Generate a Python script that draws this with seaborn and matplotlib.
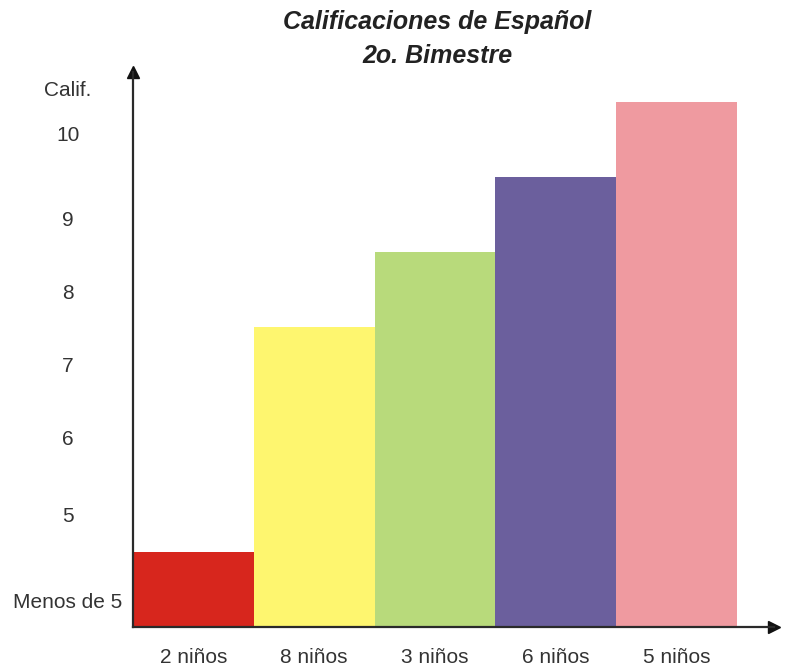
import matplotlib
matplotlib.use('Agg')
import matplotlib.pyplot as plt
import seaborn as sns

# datos
ninos = ['2 niños', '8 niños', '3 niños', '6 niños', '5 niños']
nivel = [4, 7, 8, 9, 10]   # "Menos de 5" = 4
colores = ['#d7261d', '#fef66f', '#b8da7b', '#6b5f9d', '#ef9aa0']
etiquetas_y = ['Menos de 5', '5', '6', '7', '8', '9', '10', 'Calif.']
pos_y = [3.35, 4.5, 5.52, 6.5, 7.47, 8.45, 9.58, 10.18]

sns.set_style('white')
plt.rcParams['font.family'] = ['Liberation Sans', 'DejaVu Sans']

fig = plt.figure(figsize=(7.89, 6.67), dpi=100)
ax = fig.add_axes([0.1686, 0.06, 0.8124, 0.832])

sns.barplot(x=ninos, y=nivel, hue=ninos, palette=colores, width=1.0,
            saturation=1, linewidth=0, legend=False, ax=ax)

ax.set_xlim(-0.5, 4.806)
ax.set_ylim(3, 10.4)

for s in ['top', 'right']:
    ax.spines[s].set_visible(False)
for s in ['left', 'bottom']:
    ax.spines[s].set_color('#2a2a2a')
    ax.spines[s].set_linewidth(1.6)

# flechas de los ejes
ax.plot(1, 0, '>', color='#111111', markersize=9, transform=ax.transAxes, clip_on=False)
ax.plot(0, 1, '^', color='#111111', markersize=9, transform=ax.transAxes, clip_on=False)

ax.set_yticks(pos_y, etiquetas_y)
ax.tick_params(axis='y', length=0, pad=47, labelsize=15, labelcolor='#333333')
for lbl in ax.get_yticklabels():
    lbl.set_ha('center')
ax.tick_params(axis='x', length=0, pad=15, labelsize=15, labelcolor='#333333')
ax.set_xlabel('')
ax.set_ylabel('')

fig.suptitle('Calificaciones de Español\n2o. Bimestre', x=0.554, y=0.985,
             fontsize=18, fontweight='bold', fontstyle='italic', linespacing=1.52,
             color='#222222')

plt.savefig('out.png', dpi=100)
